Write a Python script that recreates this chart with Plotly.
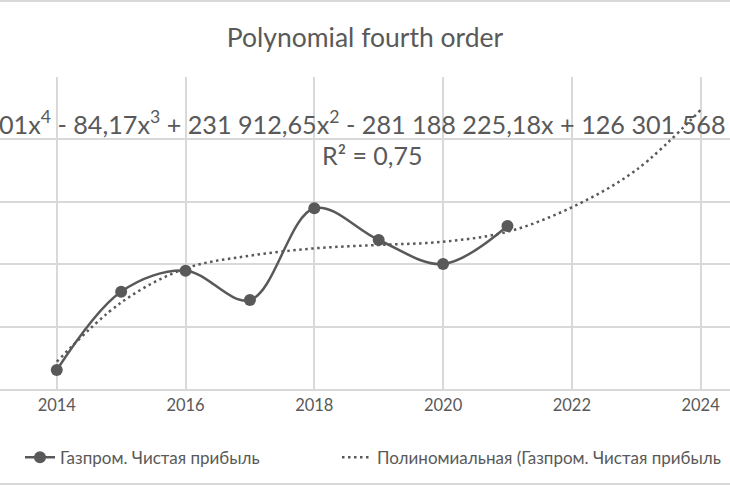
import plotly.graph_objects as go

# Газпром, чистая прибыль (grid step 500)
years = [2014, 2015, 2016, 2017, 2018, 2019, 2020, 2021]
net_profit = [152, 780, 948, 713, 1448, 1194, 1002, 1306]

# polynomial trendline as drawn (forecast to 2024)
trend_years = [2014, 2015, 2016, 2017, 2018, 2019, 2020, 2021, 2022, 2023, 2024]
trend_values = [219, 693, 966, 1068, 1127, 1154, 1180, 1260, 1456, 1755, 2236]

x_ticks = [2014, 2016, 2018, 2020, 2022, 2024]

GREY = "#595959"
GRID = "#d9d9d9"
FONT = "Lato, 'Noto Sans', sans-serif"

fig = go.Figure()

fig.add_trace(go.Scatter(
    x=years, y=net_profit,
    mode="lines+markers",
    name="Газпром. Чистая прибыль",
    line=dict(color=GREY, width=2.5, shape="spline", smoothing=1),
    marker=dict(color=GREY, size=12),
    legend="legend",
))

# legend text is cut at the right edge in the original, closing bracket not visible
fig.add_trace(go.Scatter(
    x=trend_years, y=trend_values,
    mode="lines",
    name="Полиномиальная (Газпром. Чистая прибыль",
    line=dict(color=GREY, width=2.5, dash="2.5px,3.5px", shape="spline", smoothing=1),
    legend="legend2",
))

legend_style = dict(orientation="h", xanchor="left", y=-0.22, yanchor="middle",
                    font=dict(size=17, color=GREY), itemclick=False,
                    bgcolor="rgba(0,0,0,0)")

fig.update_layout(
    width=730,
    height=486,
    margin=dict(l=0, r=0, t=77, b=97),
    paper_bgcolor="white",
    plot_bgcolor="white",
    font=dict(family=FONT, color=GREY),
    title=dict(text="Polynomial fourth order", x=0.5, xanchor="center",
               y=1 - 38 / 486, yanchor="middle", yref="container",
               font=dict(size=26.5, color=GREY)),
    showlegend=True,
    legend=dict(x=20 / 730, **legend_style),
    legend2=dict(x=337 / 730, **legend_style),
)

fig.update_xaxes(
    range=[2013.118, 2024.457],
    tickvals=x_ticks,
    showgrid=True, gridcolor=GRID, gridwidth=1.5,
    showline=True, linecolor=GRID, linewidth=2,
    ticks="", tickfont=dict(size=16.5, color=GREY),
    zeroline=False,
)
fig.update_yaxes(
    range=[0, 2500],
    dtick=500,
    showgrid=True, gridcolor=GRID, gridwidth=1.5,
    showticklabels=False, zeroline=False, showline=False,
)

# trendline label
fig.add_annotation(
    text="01x<sup>4</sup> - 84,17x<sup>3</sup> + 231 912,65x<sup>2</sup> - 281 188 225,18x + 126 301 568",
    xref="paper", yref="paper", x=0, xanchor="left", xshift=-3,
    y=(389 - 122) / 312, yanchor="middle",
    showarrow=False, font=dict(size=25.2, color=GREY),
)
fig.add_annotation(
    text="R² = 0,75",
    xref="paper", yref="paper", x=373 / 730, xanchor="center",
    y=(389 - 155) / 312, yanchor="middle",
    showarrow=False, font=dict(size=25, color=GREY),
)

# chart frame lines top and bottom
for py in [1, 484]:
    fig.add_shape(type="line", xref="paper", yref="paper",
                  x0=0, x1=1, y0=(389 - py) / 312, y1=(389 - py) / 312,
                  line=dict(color=GRID, width=2))

fig.write_html("out.html", config={"displayModeBar": False},
               post_script="document.body.style.margin='0';")
